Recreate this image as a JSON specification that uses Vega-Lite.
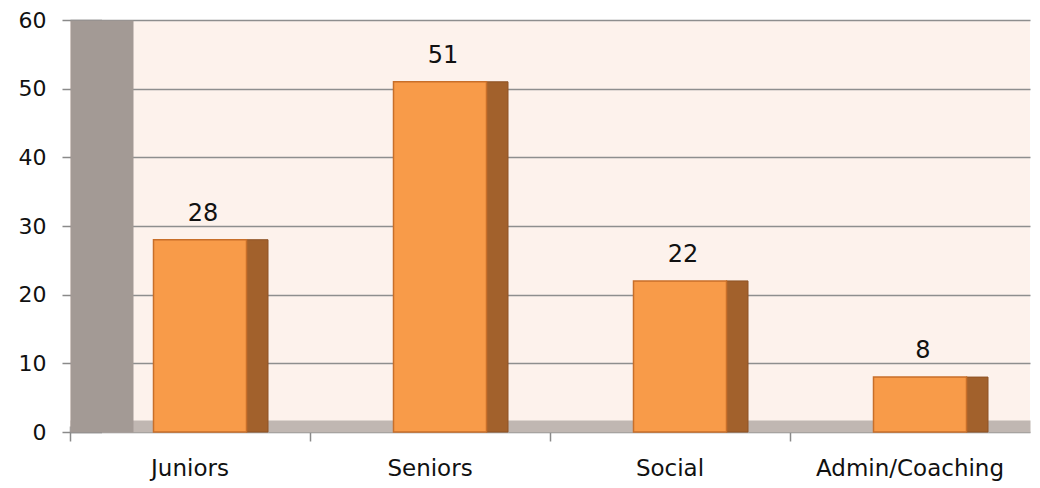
{
  "$schema": "https://vega.github.io/schema/vega-lite/v6.json",
  "autosize": {"type": "none"},
  "padding": {"left": 70, "top": 20, "right": 10, "bottom": 56},
  "width": 960,
  "height": 412,
  "background": "#ffffff",
  "config": {
    "view": {"fill": "#fdf2ec", "stroke": null},
    "font": "DejaVu Sans",
    "axis": {"labelFont": "DejaVu Sans", "labelColor": "#111111", "title": null}
  },
  "data": {
    "values": [
      {"group": "Juniors", "members": 28},
      {"group": "Seniors", "members": 51},
      {"group": "Social", "members": 22},
      {"group": "Admin/Coaching", "members": 8}
    ]
  },
  "encoding": {
    "x": {
      "field": "group",
      "type": "nominal",
      "sort": null,
      "scale": {"paddingInner": 0, "paddingOuter": 0},
      "axis": {
        "labelAngle": 0,
        "labelFontSize": 23,
        "labelLimit": 400,
        "labelOverlap": false,
        "bandPosition": 0,
        "domainColor": "#c0b7b2",
        "domainWidth": 12,
        "offset": -6,
        "tickColor": "#8a8a8a",
        "tickWidth": 1.5,
        "tickSize": 15,
        "labelPadding": 16
      }
    },
    "y": {
      "field": "members",
      "type": "quantitative",
      "scale": {"domain": [0, 60]},
      "axis": {
        "values": [0, 10, 20, 30, 40, 50, 60],
        "labelFontSize": 22,
        "grid": true,
        "gridColor": "#8e8e8e",
        "gridWidth": 1.5,
        "domainColor": "#a39a95",
        "domainWidth": 63,
        "offset": -31.5,
        "tickColor": "#8a8a8a",
        "tickWidth": 1.5,
        "tickSize": 39.5,
        "labelPadding": 16
      }
    }
  },
  "layer": [
    {
      "mark": {"type": "bar", "width": 22, "xOffset": 67, "color": "#a2612c", "stroke": "#8e5224", "strokeWidth": 1}
    },
    {
      "mark": {"type": "bar", "width": 93, "xOffset": 10, "color": "#f89b49", "stroke": "#c86f2a", "strokeWidth": 1.5}
    },
    {
      "mark": {"type": "text", "dy": -26, "xOffset": 13, "fontSize": 24, "font": "DejaVu Sans", "color": "#111111"},
      "encoding": {"text": {"field": "members", "type": "quantitative"}}
    }
  ]
}
